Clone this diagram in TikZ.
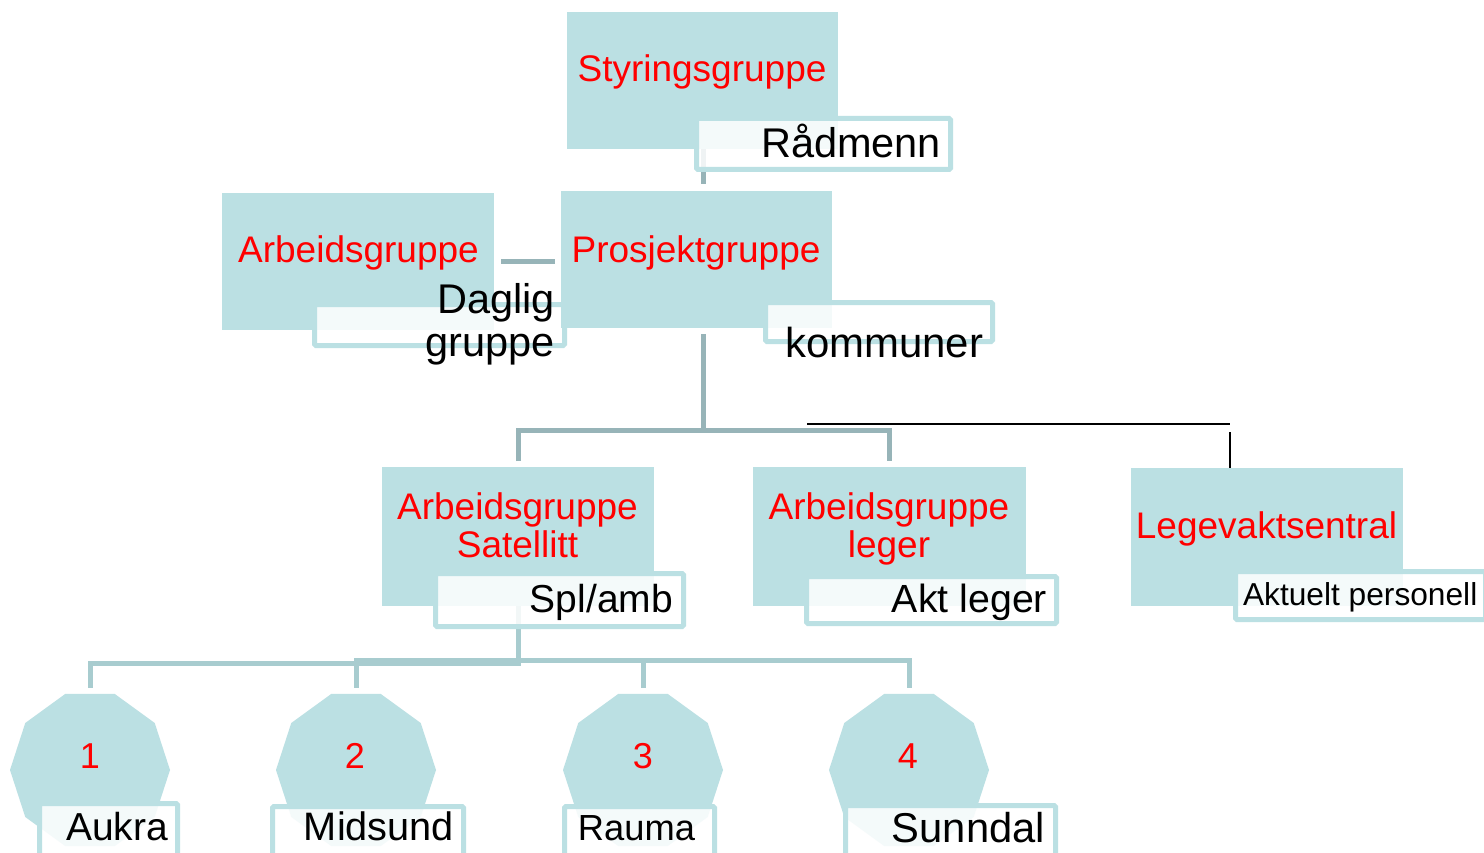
\documentclass[tikz,border=0pt]{standalone}
\usepackage{fontspec}
\setmainfont{Liberation Sans}
\usetikzlibrary{shapes.geometric}
\pgfdeclarelayer{background}
\pgfsetlayers{background,main}
\definecolor{boxblue}{RGB}{187,224,227}
\definecolor{conngray}{RGB}{151,180,184}
\definecolor{connblue}{RGB}{168,204,207}
\newcommand{\fs}[1]{\fontsize{#1pt}{1.2\dimexpr#1pt\relax}\selectfont}
\begin{document}
\begin{tikzpicture}[x=1pt,y=-1pt,
  box/.style={fill=boxblue,draw=none,inner sep=0pt,outer sep=0pt,anchor=north west},
  lab/.style={fill=white,fill opacity=0.85,draw=boxblue,line width=5pt,rounded corners=1.5pt,inner sep=0pt,outer sep=0pt,anchor=north west},
  deca/.style={regular polygon,regular polygon sides=10,minimum size=160pt,fill=boxblue,draw=none,inner sep=0pt,outer sep=0pt},
  conn/.style={draw=conngray,line width=5pt},
  connb/.style={draw=connblue,line width=5pt},
  thin/.style={draw=black,line width=1.5pt},
  tx/.style={inner sep=0pt,outer sep=0pt},
  rt/.style={tx,text=red,font=\fs{37}},
]
\clip (0,0) rectangle (1484,853);

% junction coordinates
\coordinate (j1) at (703,430);
\coordinate (j2a) at (518,663);
\coordinate (j2b) at (518,660);
\coordinate (bl1) at (807,424);
\coordinate (bl2) at (1230,424);
\coordinate (bl3) at (1230,432);

% boxes
\node[box,minimum width=271pt,minimum height=137pt] (sty) at (567,12) {};
\node[box,minimum width=272pt,minimum height=137pt] (arb) at (222,193) {};
\node[box,minimum width=272pt,minimum height=139pt] (sat) at (382,467) {};
\node[box,minimum width=273pt,minimum height=139pt] (leg) at (753,467) {};
\node[box,minimum width=272pt,minimum height=138pt] (lgv) at (1131,468) {};
\node[deca] (d1) at (90,770) {};
\node[deca] (d2) at (356,770) {};
\node[deca] (d3) at (643,770) {};
\node[deca] (d4) at (909,770) {};

% labels (Prosjektgruppe box covers the end of the Daglig label)
\node[lab,minimum width=254pt,minimum height=51pt] (radL) at (696.5,118.5) {};
\node[lab,minimum width=250pt,minimum height=41pt] (dagL) at (314.5,304.5) {};
\node[box,minimum width=271pt,minimum height=137pt] (pro) at (561,191) {};
\node[lab,minimum width=227pt,minimum height=39pt] (komL) at (765.5,302.5) {};
\node[lab,minimum width=248pt,minimum height=53pt] (splL) at (435.5,573.5) {};
\node[lab,minimum width=250pt,minimum height=47pt] (aktL) at (806.5,576.5) {};
\node[lab,minimum width=250pt,minimum height=48pt] (perL) at (1235.5,571.5) {};
\node[lab,minimum width=138pt,minimum height=70pt] (aukL) at (39.5,803.5) {};
\node[lab,minimum width=191pt,minimum height=70pt] (midL) at (272.5,806.5) {};
\node[lab,minimum width=150pt,minimum height=70pt] (rauL) at (564.5,806.5) {};
\node[lab,minimum width=210pt,minimum height=70pt] (sunL) at (845.5,805.5) {};

% connectors (behind)
\begin{pgfonlayer}{background}
\fill[white] (0,0) rectangle (1484,853);
\draw[conn,shorten >=7pt] (sty.south -| j1) -- (pro.north -| j1);
\draw[conn,shorten <=6pt] (pro.south -| j1) -- (j1);
\draw[conn,shorten <=6pt,shorten >=6pt] (sat.north) |- (j1) -| (leg.north);
\draw[conn,shorten <=7pt,shorten >=6pt] (arb.east) -- (arb.east -| pro.west);
\draw[thin] (bl1) -- (bl2);
\draw[thin] (bl3) -- (bl3 |- lgv.north);
\draw[connb,shorten >=6pt] (sat.south) -- (j2a) -| (d1.north);
\draw[connb,shorten >=6pt] (sat.south) -- (j2b) -| (d2.north);
\draw[connb,shorten >=6pt] (sat.south) -- (j2b) -| (d3.north);
\draw[connb,shorten >=6pt] (sat.south) -- (j2b) -| (d4.north);
\end{pgfonlayer}

% texts
\node[rt,anchor=base] (styT) at (702,82) {Styringsgruppe};
\node[tx,anchor=base east,font=\fs{41.5}] (radT) at (941,158) {Rådmenn};
\node[rt,anchor=base] (arbT) at (358.5,263) {Arbeidsgruppe};
\node[rt,anchor=base] (proT) at (696,262) {Prosjektgruppe};
\node[tx,anchor=base east,font=\fontsize{41.5pt}{43pt}\selectfont] (dagT) at (555,313)
  {\begin{tabular}[t]{@{}r@{}}Daglig\\gruppe\end{tabular}};
\node[tx,anchor=base east,font=\fs{41.9}] (komT) at (983,357) {kommuner};
\node[tx,anchor=base,text=red,font=\fontsize{37pt}{38pt}\selectfont] (satT) at (517.5,519)
  {\begin{tabular}[t]{@{}c@{}}Arbeidsgruppe\\Satellitt\end{tabular}};
\node[tx,anchor=base east,font=\fs{39}] (splT) at (673,612) {Spl/amb};
\node[tx,anchor=base,text=red,font=\fontsize{37pt}{38pt}\selectfont] (legT) at (889,519)
  {\begin{tabular}[t]{@{}c@{}}Arbeidsgruppe\\leger\end{tabular}};
\node[tx,anchor=base east,font=\fs{39.3}] (aktT) at (1047,612) {Akt leger};
\node[rt,anchor=base] (lgvT) at (1266.5,538) {Legevaktsentral};
\node[tx,anchor=base west,font=\fs{31.7}] (perT) at (1243,605) {Aktuelt personell};
\node[rt,anchor=base,font=\fs{36}] (n1) at (90,768) {1};
\node[rt,anchor=base,font=\fs{36}] (n2) at (355,768) {2};
\node[rt,anchor=base,font=\fs{36}] (n3) at (643,768) {3};
\node[rt,anchor=base,font=\fs{36}] (n4) at (908,768) {4};
\node[tx,anchor=base east,font=\fs{39}] (aukT) at (168,840) {Aukra};
\node[tx,anchor=base east,font=\fs{39.7}] (midT) at (454,840) {Midsund};
\node[tx,anchor=base east,font=\fs{36.3}] (rauT) at (695,840) {Rauma};
\node[tx,anchor=base east,font=\fs{41.7}] (sunT) at (1045,842) {Sunndal};
\end{tikzpicture}
\end{document}
